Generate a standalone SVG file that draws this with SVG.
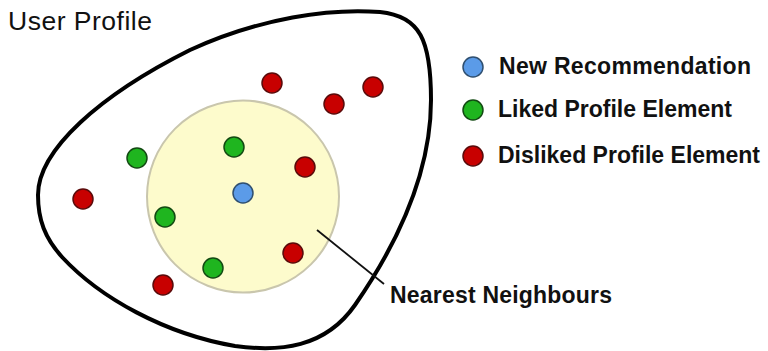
<svg xmlns="http://www.w3.org/2000/svg" width="768" height="351" viewBox="0 0 768 351">
<style>
.lbl{font-family:"Liberation Sans",Arial,sans-serif;fill:#111}
.b{font-weight:bold;font-size:23px}
.red{fill:#c80000;stroke:#5a0a0a;stroke-width:1.5}
.green{fill:#1fb51f;stroke:#124a12;stroke-width:1.5}
.blue{fill:#5b9be8;stroke:#2f4f70;stroke-width:1.5}
</style>
<rect width="768" height="351" fill="#ffffff"/>
<g id="user-profile">
<path d="M 38,195 C 38,150 100,95 190,50 C 260,18 330,8 380,12 C 420,16 431,40 431,100 C 431,170 400,240 355,305 C 325,348 280,352 235,346 C 165,334 100,298 62,257 C 45,238 38,220 38,195 Z" fill="none" stroke="#000" stroke-width="4"/>
<text class="lbl" x="8" y="30" font-size="26.5" textLength="144">User Profile</text>
</g>
<g id="nearest-neighbours">
<circle cx="243" cy="196.5" r="96" fill="#fdfbcc" stroke="#c9c6ad" stroke-width="2"/>
</g>
<g id="connectors">
<line x1="317" y1="230" x2="384" y2="284" stroke="#111" stroke-width="1.8"/>
</g>
<g id="nearest-label">
<text class="lbl b" x="390" y="303" textLength="222">Nearest Neighbours</text>
</g>
<g id="points">
<circle class="red" cx="272" cy="83" r="10"/>
<circle class="red" cx="334" cy="104" r="10"/>
<circle class="red" cx="373" cy="87" r="10"/>
<circle class="red" cx="83" cy="199" r="10"/>
<circle class="red" cx="305" cy="167" r="10"/>
<circle class="red" cx="293" cy="253" r="10"/>
<circle class="red" cx="163" cy="285" r="10"/>
<circle class="green" cx="137" cy="158" r="10"/>
<circle class="green" cx="234" cy="147" r="10"/>
<circle class="green" cx="165" cy="217" r="10"/>
<circle class="green" cx="213" cy="268" r="10"/>
<circle class="blue" cx="243" cy="193" r="10"/>
</g>
<g id="legend-new">
<circle class="blue" cx="473" cy="67" r="10"/>
<text class="lbl b" x="499" y="74" textLength="252">New Recommendation</text>
</g>
<g id="legend-liked">
<circle class="green" cx="473" cy="110" r="10"/>
<text class="lbl b" x="498" y="117">Liked Profile Element</text>
</g>
<g id="legend-disliked">
<circle class="red" cx="473" cy="156" r="10"/>
<text class="lbl b" x="498" y="163">Disliked Profile Element</text>
</g>
</svg>
